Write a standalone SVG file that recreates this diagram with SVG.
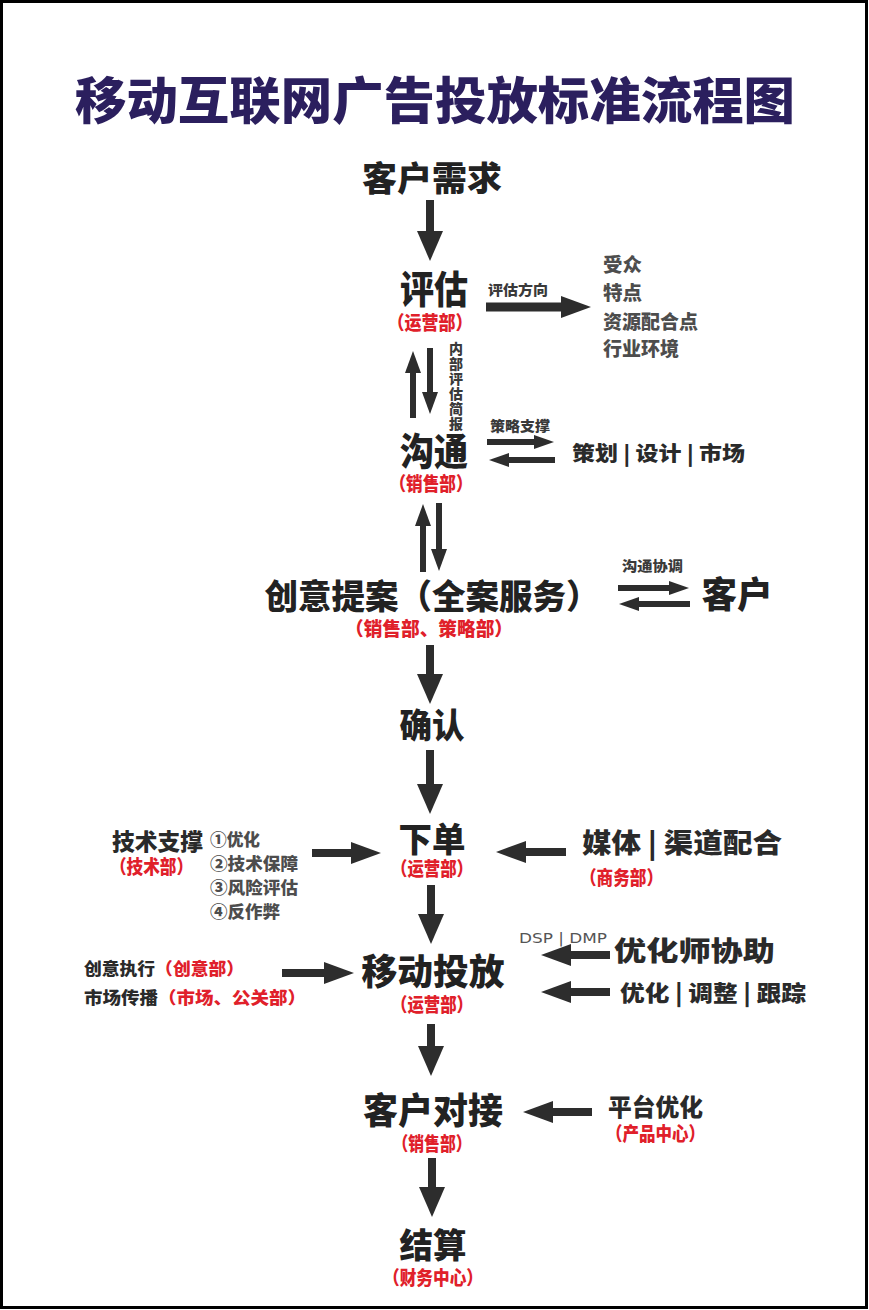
<svg xmlns="http://www.w3.org/2000/svg" width="869" height="1310" viewBox="0 0 869 1310">
<style>
text{font-family:"Noto Sans CJK SC","Noto Sans CJK JP",sans-serif;font-weight:900}
.title{fill:#2b1f5e;font-size:50px;text-anchor:middle}
.node{fill:#222;text-anchor:middle}
.dept{fill:#e0202a;font-size:19px;text-anchor:middle}
.redl{fill:#e0202a;font-size:19px}
.side{fill:#2a2a2a}
.gray{fill:#4d4d4d}
.small{fill:#3a3a3a;font-size:14px}
.red{fill:#e0202a}
.sh{stroke:#2d2d2d;fill:none;stroke-linecap:butt}
.w8{stroke-width:8}
.w9{stroke-width:9}
.w6{stroke-width:6}
</style>
<defs>
<marker id="mV" markerUnits="userSpaceOnUse" markerWidth="30" markerHeight="26" refX="1" refY="13" orient="auto"><path d="M0,0 L30,13 L0,26 z" fill="#2d2d2d"/></marker>
<marker id="mS" markerUnits="userSpaceOnUse" markerWidth="22" markerHeight="16" refX="1" refY="8" orient="auto"><path d="M0,0 L22,8 L0,16 z" fill="#2d2d2d"/></marker>
<marker id="mH" markerUnits="userSpaceOnUse" markerWidth="30" markerHeight="22" refX="1" refY="11" orient="auto"><path d="M0,0 L30,11 L0,22 z" fill="#2d2d2d"/></marker>
<marker id="mP" markerUnits="userSpaceOnUse" markerWidth="20" markerHeight="14" refX="1" refY="7" orient="auto"><path d="M0,0 L20,7 L0,14 z" fill="#2d2d2d"/></marker>
</defs>
<rect x="1.5" y="1.5" width="865" height="1306" fill="#fff" stroke="#000" stroke-width="3"/>
<text id="title" class="title" x="435" y="119" textLength="720" lengthAdjust="spacingAndGlyphs">移动互联网广告投放标准流程图</text>

<g id="connectors">
<line class="sh w8" x1="430" y1="200" x2="430" y2="232" marker-end="url(#mV)"/>
<line class="sh w9" x1="486" y1="307" x2="562" y2="307" marker-end="url(#mH)"/>
<line class="sh w6" x1="413" y1="418" x2="413" y2="372" marker-end="url(#mS)"/>
<line class="sh w6" x1="430" y1="348" x2="430" y2="393" marker-end="url(#mS)"/>
<line class="sh w6" x1="487" y1="442" x2="535" y2="442" marker-end="url(#mP)"/>
<line class="sh w6" x1="555" y1="460" x2="508" y2="460" marker-end="url(#mP)"/>
<line class="sh w6" x1="423" y1="572" x2="423" y2="525" marker-end="url(#mS)"/>
<line class="sh w6" x1="439" y1="503" x2="439" y2="550" marker-end="url(#mS)"/>
<line class="sh w6" x1="618" y1="588" x2="670" y2="588" marker-end="url(#mP)"/>
<line class="sh w6" x1="690" y1="604" x2="638" y2="604" marker-end="url(#mP)"/>
<line class="sh w8" x1="430" y1="645" x2="430" y2="675" marker-end="url(#mV)"/>
<line class="sh w8" x1="430" y1="750" x2="430" y2="785" marker-end="url(#mV)"/>
<line class="sh w8" x1="312" y1="853" x2="352" y2="853" marker-end="url(#mH)"/>
<line class="sh w8" x1="566" y1="852" x2="525" y2="852" marker-end="url(#mH)"/>
<line class="sh w8" x1="431" y1="885" x2="431" y2="915" marker-end="url(#mV)"/>
<line class="sh w8" x1="282" y1="973" x2="325" y2="973" marker-end="url(#mH)"/>
<line class="sh w8" x1="610" y1="955" x2="570" y2="955" marker-end="url(#mH)"/>
<line class="sh w8" x1="610" y1="992" x2="570" y2="992" marker-end="url(#mH)"/>
<line class="sh w8" x1="431" y1="1024" x2="431" y2="1047" marker-end="url(#mV)"/>
<line class="sh w8" x1="592" y1="1112" x2="552" y2="1112" marker-end="url(#mH)"/>
<line class="sh w8" x1="432" y1="1158" x2="432" y2="1188" marker-end="url(#mV)"/>
</g>

<g id="n-demand"><text class="node" x="432" y="191" font-size="34" textLength="140" lengthAdjust="spacingAndGlyphs">客户需求</text></g>

<g id="n-assess">
<text class="node" x="434" y="303" font-size="38" textLength="68" lengthAdjust="spacingAndGlyphs">评估</text>
<text class="dept" x="430" y="330" textLength="85" lengthAdjust="spacingAndGlyphs">（运营部）</text>
</g>
<g id="n-assess-dir">
<text class="small" x="488" y="295" textLength="60" lengthAdjust="spacingAndGlyphs">评估方向</text>
</g>
<g id="n-assess-list" class="gray" font-size="19">
<text x="603" y="272" textLength="39" lengthAdjust="spacingAndGlyphs">受众</text>
<text x="603" y="300" textLength="39" lengthAdjust="spacingAndGlyphs">特点</text>
<text x="603" y="329" textLength="95" lengthAdjust="spacingAndGlyphs">资源配合点</text>
<text x="603" y="356" textLength="76" lengthAdjust="spacingAndGlyphs">行业环境</text>
</g>
<g id="n-brief">
<text class="small" x="456" y="342" font-size="13" style="writing-mode:vertical-rl;letter-spacing:1px">内部评估简报</text>
</g>

<g id="n-communicate">
<text class="node" x="434" y="465" font-size="38" textLength="68" lengthAdjust="spacingAndGlyphs">沟通</text>
<text class="dept" x="431" y="491" textLength="83" lengthAdjust="spacingAndGlyphs">（销售部）</text>
</g>
<g id="n-strategy">
<text class="small" x="490" y="431" textLength="60" lengthAdjust="spacingAndGlyphs">策略支撑</text>
<text class="side" x="572" y="461" font-size="20" textLength="173" lengthAdjust="spacingAndGlyphs">策划 | 设计 | 市场</text>
</g>

<g id="n-proposal">
<text class="node" x="432" y="609" font-size="34" textLength="335" lengthAdjust="spacingAndGlyphs">创意提案（全案服务）</text>
<text class="dept" x="429" y="636" font-size="18" textLength="168" lengthAdjust="spacingAndGlyphs">（销售部、策略部）</text>
</g>
<g id="n-client">
<text class="small" x="622" y="571" font-size="12" fill="#555" textLength="61" lengthAdjust="spacingAndGlyphs">沟通协调</text>
<text class="node" x="737" y="608" font-size="36" textLength="71" lengthAdjust="spacingAndGlyphs">客户</text>
</g>

<g id="n-confirm"><text class="node" x="432" y="738" font-size="34" textLength="65" lengthAdjust="spacingAndGlyphs">确认</text></g>

<g id="n-order">
<text class="node" x="432" y="852" font-size="34" textLength="67" lengthAdjust="spacingAndGlyphs">下单</text>
<text class="dept" x="432" y="876" textLength="82" lengthAdjust="spacingAndGlyphs">（运营部）</text>
</g>
<g id="n-tech">
<text class="side" x="112" y="850" font-size="23" textLength="91" lengthAdjust="spacingAndGlyphs">技术支撑</text>
<text class="redl" x="110" y="874" textLength="83" lengthAdjust="spacingAndGlyphs">（技术部）</text>
<g class="gray" font-size="17">
<text x="210" y="846" textLength="50" lengthAdjust="spacingAndGlyphs">①优化</text>
<text x="210" y="870" textLength="88" lengthAdjust="spacingAndGlyphs">②技术保障</text>
<text x="210" y="894" textLength="88" lengthAdjust="spacingAndGlyphs">③风险评估</text>
<text x="210" y="918" textLength="70" lengthAdjust="spacingAndGlyphs">④反作弊</text>
</g>
</g>
<g id="n-media">
<text class="side" x="582" y="853" font-size="27" textLength="200" lengthAdjust="spacingAndGlyphs">媒体 | 渠道配合</text>
<text class="redl" x="580" y="885" textLength="83" lengthAdjust="spacingAndGlyphs">（商务部）</text>
</g>

<g id="n-launch">
<text class="node" x="433" y="985" font-size="36" textLength="143" lengthAdjust="spacingAndGlyphs">移动投放</text>
<text class="dept" x="432" y="1012" textLength="82" lengthAdjust="spacingAndGlyphs">（运营部）</text>
</g>
<g id="n-creative">
<text class="side" x="84" y="975" font-size="17" textLength="160" lengthAdjust="spacingAndGlyphs">创意执行<tspan class="red">（创意部）</tspan></text>
<text class="side" x="84" y="1004" font-size="17" textLength="222" lengthAdjust="spacingAndGlyphs">市场传播<tspan class="red">（市场、公关部）</tspan></text>
</g>
<g id="n-optimizer">
<text x="519" y="943" font-size="14" fill="#555" style="font-family:'DejaVu Sans','Liberation Sans',sans-serif;font-weight:400" textLength="88" lengthAdjust="spacingAndGlyphs">DSP | DMP</text>
<text class="side" x="614" y="961" font-size="27" textLength="161" lengthAdjust="spacingAndGlyphs">优化师协助</text>
<text class="side" x="620" y="1001" font-size="22" textLength="186" lengthAdjust="spacingAndGlyphs">优化 | 调整 | 跟踪</text>
</g>

<g id="n-handover">
<text class="node" x="433" y="1124" font-size="36" textLength="140" lengthAdjust="spacingAndGlyphs">客户对接</text>
<text class="dept" x="432" y="1151" textLength="79" lengthAdjust="spacingAndGlyphs">（销售部）</text>
</g>
<g id="n-platform">
<text class="side" x="608" y="1116" font-size="24" textLength="95" lengthAdjust="spacingAndGlyphs">平台优化</text>
<text class="redl" x="606" y="1141" textLength="99" lengthAdjust="spacingAndGlyphs">（产品中心）</text>
</g>

<g id="n-settle">
<text class="node" x="433" y="1258" font-size="34" textLength="67" lengthAdjust="spacingAndGlyphs">结算</text>
<text class="dept" x="433" y="1285" textLength="100" lengthAdjust="spacingAndGlyphs">（财务中心）</text>
</g>
</svg>
